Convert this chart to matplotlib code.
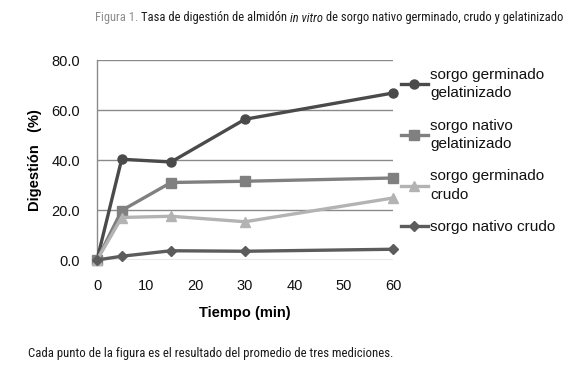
import matplotlib
matplotlib.use("Agg")
import matplotlib.pyplot as plt
from matplotlib import font_manager as fm

names = {f.name for f in fm.fontManager.ttflist}
narrow = None
for cand in ["Liberation Sans Narrow", "Arial Narrow", "Roboto Condensed", "Open Sans Condensed", "Roboto"]:
    if cand in names:
        narrow = cand
        break
if narrow is None:
    narrow = "Liberation Sans"

plt.rcParams['font.family'] = ['Liberation Sans', 'DejaVu Sans']

# Data
tiempo = [0, 5, 15, 30, 60]
series_names = ["sorgo germinado\ngelatinizado", "sorgo nativo\ngelatinizado",
                "sorgo germinado\ncrudo", "sorgo nativo crudo"]
germ_gel = [0.0, 40.3, 39.2, 56.3, 66.8]
nat_gel = [0.0, 19.8, 31.0, 31.5, 32.8]
germ_crudo = [0.0, 17.0, 17.5, 15.3, 24.8]
nat_crudo = [0.0, 1.5, 3.7, 3.5, 4.3]
xticks = [0, 10, 20, 30, 40, 50, 60]
yticks = [0, 20, 40, 60, 80]

W, H = 573, 379
fig = plt.figure(figsize=(W / 100, H / 100), dpi=100)
ax = fig.add_axes([97 / W, 1 - 260 / H, (393 - 97) / W, 200 / H])

styles = [
    (germ_gel, '#4a4a4a', 'o', 6.5),
    (nat_gel, '#808080', 's', 6.5),
    (germ_crudo, '#b3b3b3', '^', 6.5),
    (nat_crudo, '#5c5c5c', 'D', 5.5),
]
for (vals, c, m, ms), lab in zip(styles, series_names):
    ax.plot(tiempo, vals, color=c, marker=m, markersize=ms, linewidth=2.4,
            label=lab, clip_on=False, zorder=3)

ax.set_xlim(0, 60)
ax.set_ylim(0, 80)
ax.set_xticks(xticks)
ax.set_yticks(yticks)
ax.set_yticklabels([f"{v:.1f}" for v in yticks])
ax.grid(axis='y', color='#8a8a8a', linewidth=1.0)
ax.set_axisbelow(True)
for s in ['top', 'right', 'bottom']:
    ax.spines[s].set_visible(False)
ax.spines['left'].set_color('#8a8a8a')
ax.spines['left'].set_linewidth(1.0)
ax.tick_params(length=0, labelsize=10.5, colors='#111111')
ax.tick_params(axis='x', pad=14)
ax.tick_params(axis='y', pad=12)

fig.text(35 / W, 1 - 160 / H, "Digestión   (%)", rotation=90, ha='center', va='center',
         fontsize=10.5, fontweight='bold')
fig.text(245 / W, 1 - 313 / H, "Tiempo (min)", ha='center', va='center',
         fontsize=10.5, fontweight='bold')

leg = fig.legend(loc='upper left', bbox_to_anchor=(401 / W, 1 - 68 / H), frameon=False,
                 fontsize=11, handlelength=1.75, handletextpad=0.15, labelspacing=1.2,
                 borderaxespad=0, borderpad=0)
for t in leg.get_texts():
    t.set_linespacing(1.4)
    t.set_color('#111111')

fig.canvas.draw()
r = fig.canvas.get_renderer()

# Title with mixed styles, sized to fit reference width
parts = [("Figura 1. ", dict(color='#8c8c8c')),
         ("Tasa de digestión de almidón ", dict(color='#1a1a1a')),
         ("in vitro", dict(color='#1a1a1a', style='italic')),
         (" de sorgo nativo germinado, crudo y gelatinizado", dict(color='#1a1a1a'))]
base = 10.0
tmp = [fig.text(0, 0, txt, fontsize=base, family=[narrow, 'DejaVu Sans'], **kw) for txt, kw in parts]
total = sum(t.get_window_extent(renderer=r).width for t in tmp)
for t in tmp:
    t.remove()
fs = min(base * 465 / total, 10.5)
x = 95
for txt, kw in parts:
    t = fig.text(x / W, 1 - 18 / H, txt, fontsize=fs, va='center', ha='left',
                 family=[narrow, 'DejaVu Sans'], **kw)
    x += t.get_window_extent(renderer=r).width

foot = fig.text(28 / W, 1 - 353 / H,
                "Cada punto de la figura es el resultado del promedio de tres mediciones.",
                fontsize=10, va='center', ha='left', color='#1a1a1a',
                family=[narrow, 'DejaVu Sans'])
wf = foot.get_window_extent(renderer=r).width
foot.set_fontsize(min(10 * 362 / wf, 10))

fig.savefig("out.png", dpi=100)
